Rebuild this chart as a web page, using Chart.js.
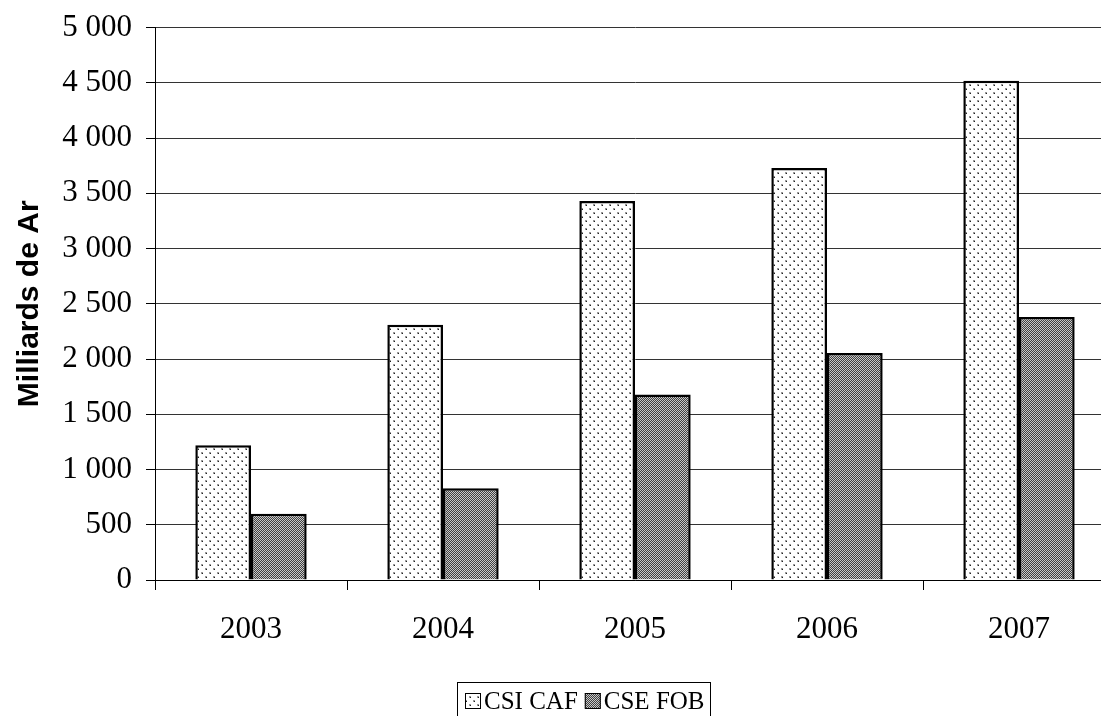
<!DOCTYPE html>
<html lang="fr">
  <head>
    <meta charset="UTF-8" />
    <title>Chart</title>
    <script src="https://cdn.jsdelivr.net/npm/chart.js"></script>
    <style>
      html, body { margin: 0; padding: 0; background: #fff; overflow: hidden; }
      #wrap { width: 1130px; height: 740px; margin-top: -5px; }
    </style>
  </head>
  <body>
    <div id="wrap"><canvas id="chart" width="1130" height="740"></canvas></div>

    <script>
      // data (milliards de Ar)
      const years = ["2003", "2004", "2005", "2006", "2007"];
      const csiCaf = [1220, 2310, 3430, 3730, 4520];
      const cseFob = [600, 830, 1680, 2055, 2380];
      const seriesNames = ["CSI CAF", "CSE FOB"];
      const yTitle = "Milliards de Ar";

      const serif = "'Liberation Serif', 'Times New Roman', serif";

      // dotted fill for CSI CAF
      function dotPattern() {
        const c = document.createElement("canvas");
        c.width = 8; c.height = 8;
        const g = c.getContext("2d");
        g.fillStyle = "#fff";
        g.fillRect(0, 0, 8, 8);
        g.fillStyle = "#999";
        g.fillRect(1, 1, 2, 2);
        g.fillRect(5, 5, 2, 2);
        g.fillStyle = "#222";
        g.fillRect(2, 2, 1, 1);
        g.fillRect(6, 6, 1, 1);
        return g.createPattern(c, "repeat");
      }

      // fine checker for CSE FOB
      function checkPattern() {
        const c = document.createElement("canvas");
        c.width = 2; c.height = 2;
        const g = c.getContext("2d");
        g.fillStyle = "#c8c8c8";
        g.fillRect(0, 0, 2, 2);
        g.fillStyle = "#404040";
        g.fillRect(0, 0, 1, 1);
        g.fillRect(1, 1, 1, 1);
        return g.createPattern(c, "repeat");
      }

      const fills = [dotPattern(), checkPattern()];

      // legend in a box under the chart, as in the original
      // (canvas sits 5px higher than the page, hence the +5)
      const boxLegend = {
        id: "boxLegend",
        afterDraw(chart) {
          const ctx = chart.ctx;
          const left = 457, top = 687, right = 710, bottom = 770;
          ctx.save();
          ctx.strokeStyle = "#000";
          ctx.lineWidth = 1;
          ctx.strokeRect(left + 0.5, top + 0.5, right - left, bottom - top);
          ctx.font = "25px " + serif;
          ctx.textBaseline = "middle";
          ctx.fillStyle = "#000";
          let x = left + 8;
          const cy = 706;
          chart.data.datasets.forEach((ds) => {
            ctx.fillStyle = ds.backgroundColor;
            ctx.fillRect(x, cy - 8, 16, 16);
            ctx.strokeStyle = "#000";
            ctx.strokeRect(x + 0.5, cy - 7.5, 15, 15);
            x += 19;
            ctx.fillStyle = "#000";
            ctx.fillText(ds.label, x, cy + 1);
            x += ctx.measureText(ds.label).width + 7;
          });
          ctx.restore();
        }
      };

      new Chart(document.getElementById("chart"), {
        type: "bar",
        data: {
          labels: years,
          datasets: [
            { label: seriesNames[0], data: csiCaf, backgroundColor: fills[0], borderColor: "#000", borderWidth: 2.5 },
            { label: seriesNames[1], data: cseFob, backgroundColor: fills[1], borderColor: "#000", borderWidth: 2.5 }
          ]
        },
        options: {
          responsive: false,
          animation: false,
          devicePixelRatio: 1,
          categoryPercentage: 0.58,
          barPercentage: 1,
          layout: { padding: { left: 0, right: 15, top: 7, bottom: 94 } },
          plugins: {
            legend: { display: false },
            tooltip: { enabled: false }
          },
          scales: {
            x: {
              offset: true,
              grid: { offset: true, drawOnChartArea: false, drawTicks: true, tickLength: 10, color: "#000" },
              border: { color: "#000", width: 1 },
              ticks: { color: "#000", padding: 21, font: { family: serif, size: 31 } },
              afterFit(scale) { scale.height = 61; }
            },
            y: {
              min: 0,
              max: 5000,
              ticks: {
                stepSize: 500,
                color: "#000",
                padding: 14,
                font: { family: serif, size: 31 },
                callback: (v) => String(v).replace(/\B(?=(\d{3})+(?!\d))/g, " ")
              },
              grid: { color: "#333", lineWidth: 1, tickLength: 9, tickColor: "#000" },
              border: { color: "#000", width: 1 },
              title: {
                display: true,
                text: yTitle,
                color: "#000",
                padding: { top: 12, bottom: 0 },
                font: { family: "'Liberation Sans', Arial, sans-serif", size: 30, weight: "bold" }
              },
              afterFit(scale) { scale.width = 155; }
            }
          }
        },
        plugins: [boxLegend]
      });
    </script>
  </body>
</html>
